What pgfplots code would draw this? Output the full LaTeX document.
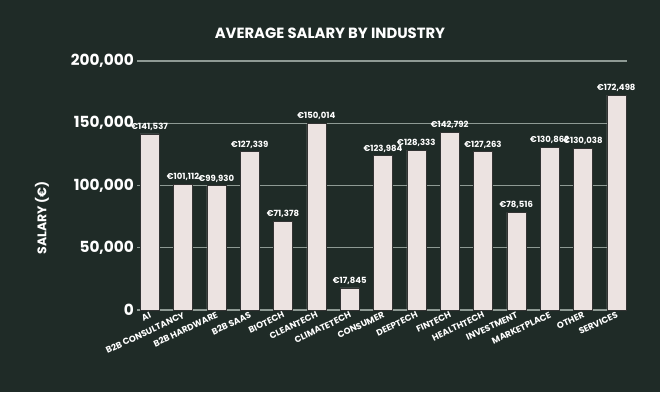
\documentclass[border=0pt]{standalone}
\usepackage{pgfplots}
\pgfplotsset{compat=1.18}
\usepackage{fontspec}
\setmainfont{Poppins}
\definecolor{bg}{HTML}{1F2B27}
\definecolor{barc}{HTML}{ECE3E1}
\definecolor{gridc}{HTML}{8E9A94}
\begin{document}
\begin{tikzpicture}[x=1pt,y=1pt]
\useasboundingbox (0,0) rectangle (660,392);
\fill[bg] (0,0) rectangle (660,392);
\node[text=white,font=\fontsize{14.8}{17}\selectfont\bfseries] at (330,359) {AVERAGE SALARY BY INDUSTRY};
\node[text=white,rotate=90,font=\fontsize{12.5}{15}\selectfont\bfseries] at (42,174) {SALARY (€)};
\begin{axis}[
  at={(137pt,82pt)}, anchor=south west,
  scale only axis, width=490pt, height=249pt,
  xmin=-0.38, xmax=14.32, ymin=0, ymax=200000,
  ytick={0,50000,100000,150000,200000},
  scaled y ticks=false,
  /pgf/number format/.cd, fixed, precision=0, 1000 sep={,}, assume math mode=true, /pgfplots/.cd,
  xtick={0,...,14},
  xticklabels={AI,B2B CONSULTANCY,B2B HARDWARE,B2B SAAS,BIOTECH,CLEANTECH,CLIMATETECH,CONSUMER,DEEPTECH,FINTECH,HEALTHTECH,INVESTMENT,MARKETPLACE,OTHER,SERVICES},
  xticklabel style={rotate=25, anchor=north east, inner sep=1pt, text=white, font=\fontsize{8.8}{10}\selectfont\bfseries},
  yticklabel style={text=white, font=\fontsize{15.3}{17}\selectfont\bfseries, inner sep=3pt},
  axis x line*=bottom, axis y line*=left,
  x axis line style={gridc, line width=1pt, -},
  y axis line style={draw=none},
  major x tick style={draw=none},
  ymajorgrids, grid style={gridc, line width=1.2pt},
  major y tick style={gridc, line width=1pt},
  major tick length=3pt,
  clip=false,
]
\addplot[ybar, bar width=0.57, fill=barc, draw=black!80, line width=0.4pt,
  nodes near coords={\texteuro\pgfmathprintnumber[1000 sep={,},fixed,precision=0,assume math mode=true]{\pgfplotspointmeta}},
  nodes near coords style={text=white, font=\fontsize{8.5}{10}\selectfont\bfseries, anchor=south, inner sep=2pt, yshift=1pt},
  point meta=y
] coordinates {
(0,141537) (1,101112) (2,99930) (3,127339) (4,71378) (5,150014) (6,17845) (7,123984) (8,128333) (9,142792) (10,127263) (11,78516) (12,130862) (13,130038) (14,172498)
};
\end{axis}
\end{tikzpicture}
\end{document}
